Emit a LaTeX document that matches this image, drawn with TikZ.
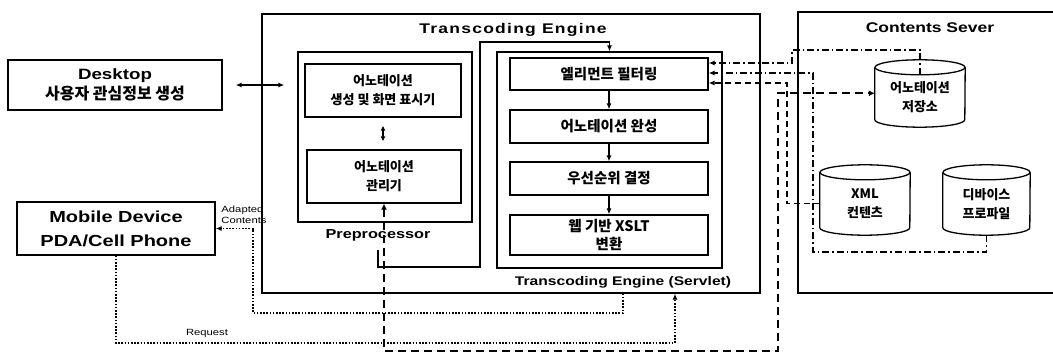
\documentclass[tikz,border=0pt]{standalone}
\usepackage{fontspec}
\setmainfont{Liberation Sans}[FakeStretch=1.25]
\newfontfamily\kr{Noto Sans CJK KR}
\usetikzlibrary{positioning,arrows.meta}

\begin{document}
\begin{tikzpicture}[x=1pt,y=-1pt,
  box/.style={draw,line width=1.3pt,align=center,inner sep=0pt},
  kbox/.style={box,font=\kr\bfseries\fontsize{13}{19}\selectfont},
  fbox/.style={box,minimum width=198pt,font=\kr\bfseries\fontsize{14.5}{18}\selectfont},
  db/.style={align=center,inner sep=0pt,font=\kr\bfseries\fontsize{13}{19}\selectfont},
  cyl/.style={line width=1.3pt},
  tip/.style={-{Latex[length=6pt,width=5pt]}},
  dotline/.style={line width=1.8pt,dash pattern=on 1.6pt off 1.6pt},
  dashdot/.style={line width=1.3pt,dash pattern=on 7pt off 3pt on 1.5pt off 3pt},
  dashline/.style={line width=1.3pt,dash pattern=on 6pt off 4pt},
  heavydash/.style={line width=2.2pt,dash pattern=on 8pt off 5pt}]

\useasboundingbox (0,0) rectangle (1053,353);

% clients
\node[box,minimum width=214pt,minimum height=50pt,font=\bfseries\fontsize{15}{20}\selectfont]
  (desktop) at (115,85) {Desktop\\{\kr\fontsize{16}{20}\selectfont 사용자 관심정보 생성}};
\node[box,minimum width=198pt,minimum height=53pt,font=\bfseries\fontsize{16}{24}\selectfont]
  (mobile) at (116,228.5) {Mobile Device\\PDA/Cell Phone};

% transcoding engine
\node[box,minimum width=498pt,minimum height=279pt] (te) at (511,153.5) {};
\node[font=\bfseries\fontsize{14}{16}\selectfont\addfontfeatures{LetterSpace=9}] (tetitle) at (513,30) {Transcoding Engine};

\node[box,minimum width=174pt,minimum height=170pt] (pre) at (385,137) {};
\node[font=\bfseries\fontsize{13}{16}\selectfont] (prelabel) at (378,235) {Preprocessor};
\node[kbox,minimum width=156pt,minimum height=53pt] (gen) at (383,90.5) {어노테이션\\생성 및 화면 표시기};
\node[kbox,minimum width=154pt,minimum height=53pt] (man) at (384,176.5) {어노테이션\\관리기};

\node[box,minimum width=225pt,minimum height=216pt] (servlet) at (609.5,160) {};
\node[font=\bfseries\fontsize{12.5}{16}\selectfont] (servletlabel) at (623,282) {Transcoding Engine (Servlet)};
\node[fbox,minimum height=32pt] (filter) at (609,74) {엘리먼트 필터링};
\node[fbox,minimum height=33pt] (complete) at (609,126.5) {어노테이션 완성};
\node[fbox,minimum height=33pt] (priority) at (609,178.5) {우선순위 결정};
\node[fbox,minimum height=40pt] (xslt) at (609,235) {웹 기반 XSLT\\변환};

% contents server
\draw[line width=1.3pt] (1056,12) -- (798,12) -- (798,293) -- (1056,293);
\node[font=\bfseries\fontsize{14}{16}\selectfont] (cstitle) at (930,28) {Contents Sever};
\node[db,minimum width=90pt,minimum height=59.5pt] (store) at (920,97.25) {어노테이션\\저장소};
\node[db,minimum width=90pt,minimum height=62.5pt] (xml) at (865,203.75) {XML\\컨텐츠};
\node[db,minimum width=87pt,minimum height=62.5pt] (device) at (986.5,203.75) {디바이스\\프로파일};

\foreach \c/\r in {store/45,xml/45,device/43.5}
  {\draw[cyl] (\c.north) ellipse [x radius=\r pt, y radius=7.5pt];
   \draw[cyl] (\c.north west) -- ([yshift=7.5pt]\c.south west)
     arc [start angle=180, end angle=360, x radius=\r pt, y radius=7.5pt] -- (\c.north east);}

% connectors
\draw[{Latex[length=6pt,width=5pt]}-{Latex[length=6pt,width=5pt]},line width=1.3pt,
  shorten <=13pt,shorten >=13pt] (desktop.east) -- (desktop.east -| pre.west);
\draw[{Latex[length=5pt,width=5pt]}-{Latex[length=5pt,width=5pt]},line width=1.3pt,
  shorten <=8pt,shorten >=8pt] (gen.south) -- (gen.south |- man.north);

\foreach \a/\b in {filter/complete,complete/priority,priority/xslt}
  \draw[tip,line width=1.1pt] (\a.south) -- (\b.north);

\coordinate (feed) at (480,42);
\draw[tip,line width=1.1pt] (prelabel.south) ++(0,6) |- (480,267) -- (feed) -| (servlet.north);

\draw[dotline,tip] (te.south -| 623,0) |- (253,313) |- (mobile.east);
\node[font=\fontsize{9}{11}\selectfont,align=left,inner sep=0pt] (adapted) at (244,215) {Adapted\\Contents};
\draw[dotline,tip] (mobile.south) |- (675,343) -- (te.south -| 675,0);
\node[font=\fontsize{9}{11}\selectfont,inner sep=0pt] (request) at (207,333) {Request};

\draw[heavydash,{Latex[length=6pt,width=6pt]}-{Latex[length=6pt,width=6pt]}]
  (man.south) |- (778,351) |- ([yshift=4pt]store.west);
\draw[dashline,tip] (xml.west) -| (787,83) -- (filter.east |- 0,83);
\draw[dashdot,tip] ([yshift=-7.5pt]store.north) |- (792,50) |- (filter.east |- 0,63);
\draw[dashdot,tip] (device.south) |- (813,252) |- (filter.east |- 0,73);

\end{tikzpicture}
\end{document}
